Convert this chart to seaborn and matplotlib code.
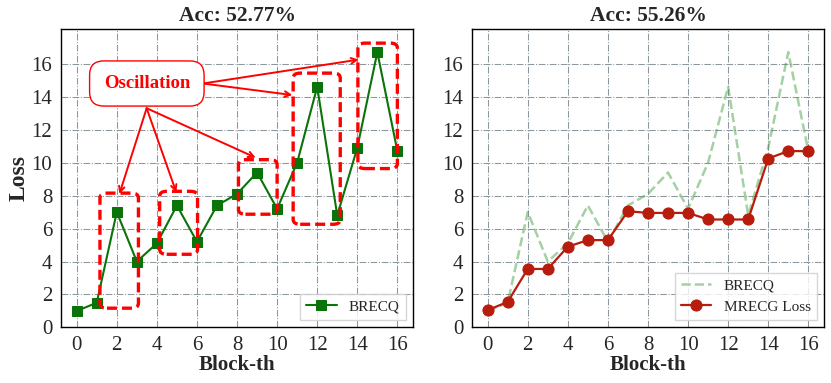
import numpy as np
import pandas as pd
import seaborn as sns
from matplotlib import pyplot as plt
from matplotlib.patches import FancyBboxPatch

# data
blocks = list(range(17))
brecq_loss = [1.0, 1.5, 7.0, 4.0, 5.1, 7.4, 5.2, 7.4, 8.1, 9.4, 7.2, 10.0, 14.6, 6.8, 10.9, 16.7, 10.7]
mrecg_loss = [1.05, 1.55, 3.55, 3.55, 4.9, 5.3, 5.3, 7.05, 6.95, 6.95, 6.95, 6.55, 6.55, 6.55, 10.25, 10.7, 10.7]
titles = ["Acc: 52.77%", "Acc: 55.26%"]

# oscillation boxes (x0, x1, y0, y1) in data units
osc_boxes = [(1.16, 3.08, 1.17, 8.15), (4.14, 6.03, 4.44, 8.26), (8.07, 10.0, 6.87, 10.18),
             (10.8, 13.15, 6.26, 15.43), (14.03, 16.0, 9.64, 17.25)]
arrow_heads_bottom = [(2.13, 8.1), (4.97, 8.2), (8.93, 10.3)]
arrow_heads_right = [(10.76, 14.1), (14.07, 16.25)]


def style_axes(ax):
    ax.set_xlim(-0.8, 16.8)
    ax.set_ylim(0, 18.1)
    ax.set_xticks(range(0, 17, 2))
    ax.set_yticks(range(0, 17, 2))
    ax.grid(True, color="#8d979e", linestyle="-.", linewidth=0.75)
    ax.set_axisbelow(True)
    for s in ax.spines.values():
        s.set_color("black")
        s.set_linewidth(1.0)
    ax.tick_params(labelsize=15, length=4, color="black", pad=2)
    ax.set_xlabel("Block-th", fontsize=15, fontweight="bold", labelpad=0)


def main():
    sns.set_style("white")
    plt.rcParams["font.family"] = ["Liberation Serif", "DejaVu Serif"]

    df = pd.DataFrame({"block": blocks, "BRECQ": brecq_loss, "MRECG Loss": mrecg_loss})

    fig, axes = plt.subplots(1, 2, figsize=(8.31, 3.83), dpi=100)
    fig.subplots_adjust(left=0.073, right=0.992, top=0.924, bottom=0.145, wspace=0.165)

    # left panel
    ax = axes[0]
    sns.lineplot(data=df, x="block", y="BRECQ", ax=ax, color="#0a730a", marker="s",
                 markersize=7, markeredgecolor="#0a730a", linewidth=1.5, label="BRECQ")
    style_axes(ax)
    ax.set_ylabel("Loss", fontsize=17, fontweight="bold", labelpad=1)
    ax.set_title(titles[0], fontsize=15.5, fontweight="bold", pad=6)
    ax.legend(loc="lower right", fontsize=11, frameon=True, fancybox=False, edgecolor="#cccccc",
              handlelength=2.0)

    for x0, x1, y0, y1 in osc_boxes:
        ax.add_patch(FancyBboxPatch((x0, y0), x1 - x0, y1 - y0,
                                    boxstyle="round,pad=0,rounding_size=0.35", fill=False,
                                    edgecolor="red", linestyle=(0, (3, 1.5)), linewidth=2.4,
                                    mutation_aspect=0.84, zorder=4))

    ax.text(3.5, 14.8, "Oscillation", color="red", fontsize=13.5, fontweight="bold",
            ha="center", va="center", zorder=6,
            bbox=dict(boxstyle="round,pad=0.75", facecolor="white", edgecolor="red", linewidth=1.0))
    for hx, hy in arrow_heads_bottom:
        ax.annotate("", xy=(hx, hy), xytext=(3.49, 13.3),
                    arrowprops=dict(arrowstyle="->", color="red", lw=1.4, shrinkA=0, shrinkB=0),
                    zorder=5)
    for hx, hy in arrow_heads_right:
        ax.annotate("", xy=(hx, hy), xytext=(6.3, 14.8),
                    arrowprops=dict(arrowstyle="->", color="red", lw=1.4, shrinkA=0, shrinkB=0),
                    zorder=5)

    # right panel
    ax = axes[1]
    sns.lineplot(data=df, x="block", y="BRECQ", ax=ax, color="#4aa34a", alpha=0.5,
                 linestyle="--", linewidth=1.8, label="BRECQ")
    sns.lineplot(data=df, x="block", y="MRECG Loss", ax=ax, color="#b81c0c", marker="o",
                 markersize=8, markeredgecolor="#b81c0c", linewidth=1.6, label="MRECG Loss")
    style_axes(ax)
    ax.set_ylabel("")
    ax.set_title(titles[1], fontsize=15.5, fontweight="bold", pad=6)
    ax.legend(loc="lower right", fontsize=11, frameon=True, fancybox=False, edgecolor="#cccccc",
              handlelength=2.0)

    fig.savefig("out.png", dpi=100)
    plt.close(fig)


if __name__ == '__main__':
    main()
